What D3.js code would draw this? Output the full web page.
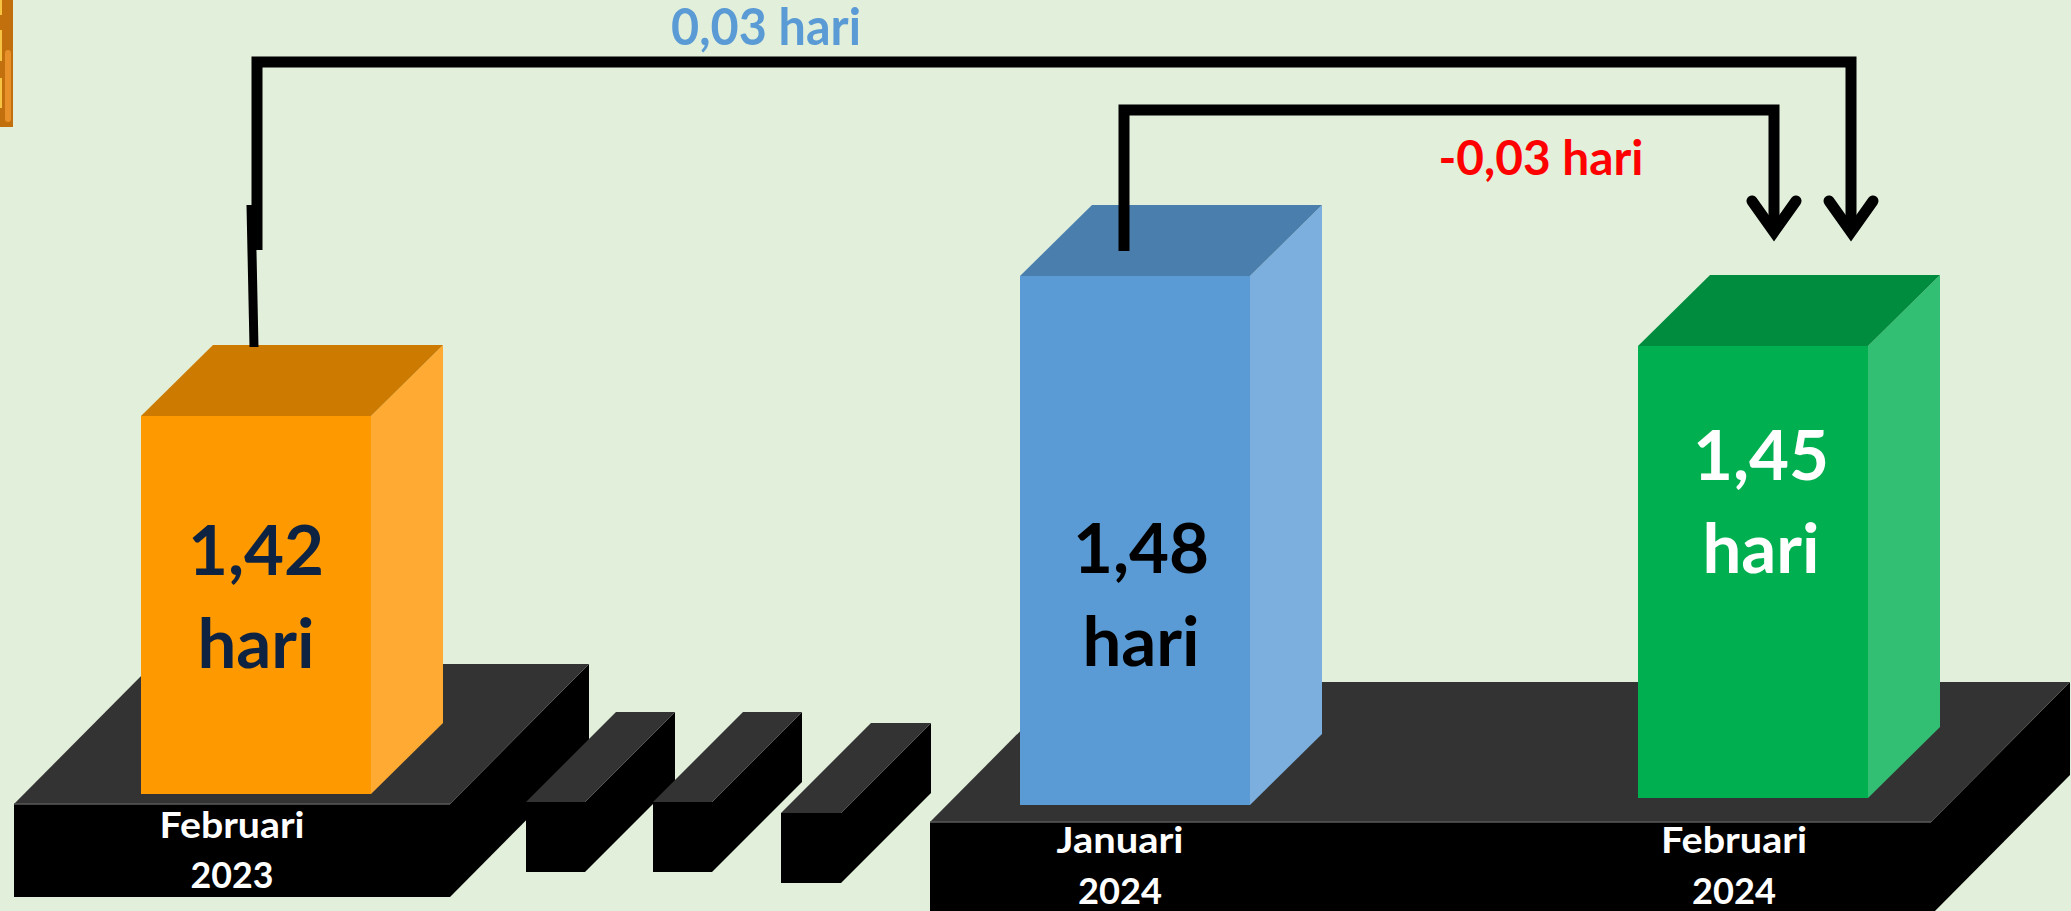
<!DOCTYPE html>
<html>
<head>
<meta charset="utf-8">
<script src="https://cdn.jsdelivr.net/npm/d3@7"></script>
<style>
  html, body { margin: 0; padding: 0; background: #E2EFDA; overflow: hidden; }
  svg { display: block; }
  text { font-family: Lato, "Open Sans", sans-serif; font-weight: 700; }
</style>
</head>
<body>
<svg id="chart" width="2071" height="911"></svg>
<script>
// ---- data ----
const categories = ["Februari 2023", "Januari 2024", "Februari 2024"];
const categoryLines = [["Februari", "2023"], ["Januari", "2024"], ["Februari", "2024"]];
const values = [1.42, 1.48, 1.45];
const unitLabel = "hari";
// comparisons drawn as bracket arrows: [from index, to index]
const comparisons = [[0, 2], [1, 2]];

// ---- styles ----
const faceColors = [
  { front: "#FF9900", side: "#FFAA33", top: "#CC7A00", label: "#0E2241" },
  { front: "#5B9BD5", side: "#7CAFDE", top: "#4A7EAD", label: "#000000" },
  { front: "#00B050", side: "#33BF73", top: "#008C3F", label: "#FFFFFF" }
];
const compareColors = ["#5B9BD5", "#FF0000"];

// ---- layout ----
const W = 2071, H = 911;
const barWidth = 230;
const depth = { dx: 72, dy: -71 };
const barBase = [794, 805, 798];
const labelBaseline = [575, 573, 480];
const labelShift = [0, 6, 8];
const slabDepth = { dx: 139, dy: -140 };
const slabs = [
  { x0: 14, x1: 450, top: 804, bottom: 897 },
  { x0: 930, x1: 1931, top: 822, bottom: 915 }
];
const categoryLabelX = [232, 1120, 1734];
const categoryLineWidths = [[145, 83], [127, 84], [146, 84]];
const categoryBaselines = [[838, 888], [853, 904]];
const blockDepth = { dx: 90, dy: -90 };
const blocks = [
  { x0: 526, x1: 585, top: 802, bottom: 872 },
  { x0: 653, x1: 712, top: 802, bottom: 872 },
  { x0: 781, x1: 841, top: 813, bottom: 883 }
];

const svg = d3.select("#chart");
svg.append("rect").attr("width", W).attr("height", H).attr("fill", "#E2EFDA");

// small decorative tab in the top-left corner
const tab = svg.append("g");
tab.append("rect").attr("x", 0).attr("y", 0).attr("width", 13).attr("height", 127).attr("fill", "#C26F0E");
[[0, 15], [30, 61], [78, 108]].forEach(([a, b]) =>
  tab.append("rect").attr("x", 0).attr("y", a).attr("width", 2).attr("height", b - a).attr("fill", "#F6C342"));
tab.append("rect").attr("x", 5).attr("y", 50).attr("width", 6).attr("height", 72).attr("rx", 3).attr("fill", "#E8902A");

// ---- scales ----
const x = d3.scaleOrdinal().domain(categories).range([141, 1020, 1638]);
const y = d3.scaleLinear().domain([1.42, 1.48]).range([416, 276]);

// generic extruded box: front rectangle, side and top faces
function box(g, x0, x1, top, bottom, d, c) {
  g.append("polygon")
    .attr("points", [[x1, top], [x1 + d.dx, top + d.dy], [x1 + d.dx, bottom + d.dy], [x1, bottom]].join(" "))
    .attr("fill", c.side);
  g.append("polygon")
    .attr("points", [[x0, top], [x0 + d.dx, top + d.dy], [x1 + d.dx, top + d.dy], [x1, top]].join(" "))
    .attr("fill", c.top);
  g.append("rect").attr("x", x0).attr("y", top).attr("width", x1 - x0).attr("height", bottom - top)
    .attr("fill", c.front);
}

// ---- base slabs and connecting blocks ----
const slabColors = { front: "#000000", side: "#000000", top: "#333333" };
const base = svg.append("g");
box(base, slabs[0].x0, slabs[0].x1, slabs[0].top, slabs[0].bottom, slabDepth, slabColors);
blocks.forEach(b => box(base, b.x0, b.x1, b.top, b.bottom, blockDepth, slabColors));
box(base, slabs[1].x0, slabs[1].x1, slabs[1].top, slabs[1].bottom, slabDepth, slabColors);
slabs.forEach(s => base.append("line").attr("x1", s.x0).attr("x2", s.x1).attr("y1", s.top).attr("y2", s.top)
  .attr("stroke", "#5a5a5a").attr("stroke-width", 1.5));

// ---- bars ----
const bars = svg.append("g");
categories.forEach((c, i) => {
  const x0 = x(c);
  box(bars, x0, x0 + barWidth, y(values[i]), barBase[i], depth, faceColors[i]);
});

// ---- value labels inside bars ----
const fmt = v => v.toFixed(2).replace(".", ",");
categories.forEach((c, i) => {
  const cx = x(c) + barWidth / 2 + labelShift[i];
  const g = svg.append("g").attr("fill", faceColors[i].label).attr("text-anchor", "middle")
    .style("font-size", "69px");
  g.append("text").attr("x", cx).attr("y", labelBaseline[i]).text(fmt(values[i]));
  g.append("text").attr("x", cx).attr("y", labelBaseline[i] + 93).text(unitLabel);
});

// ---- category labels on the slab fronts ----
categories.forEach((c, i) => {
  const row = i === 0 ? 0 : 1;
  const g = svg.append("g").attr("fill", "#FFFFFF").attr("text-anchor", "middle").style("font-size", "37px");
  categoryLines[i].forEach((line, j) => {
    g.append("text").attr("x", categoryLabelX[i]).attr("y", categoryBaselines[row][j])
      .attr("textLength", categoryLineWidths[i][j]).attr("lengthAdjust", "spacingAndGlyphs")
      .text(line);
  });
});

// ---- comparison brackets ----
const arrows = svg.append("g").attr("fill", "none").attr("stroke", "#000");
const brackets = [
  { startDx: 113, levelY: 62, endDx: 213, tipY: 232, labelX: 766, labelY: 45, size: 51, len: 190 },
  { startDx: 104, levelY: 110, endDx: 136, tipY: 232, labelX: 1541, labelY: 175, size: 47, len: 205 }
];
comparisons.forEach(([a, b], k) => {
  const br = brackets[k];
  const sx = x(categories[a]) + br.startDx;
  const ex = x(categories[b]) + br.endDx;
  const topY = y(values[a]);
  if (k === 0) {
    // short tilted stub rising from the back edge of the first bar
    const sy = topY + depth.dy + 2;
    arrows.append("path").attr("d", `M${sx} ${sy} L${sx - 3} ${sy - 142}`).attr("stroke-width", 9);
    arrows.append("path").attr("d", `M${sx + 3} ${sy - 97} V${br.levelY} H${ex} V${br.tipY}`)
      .attr("stroke-width", 11).attr("stroke-linejoin", "miter");
  } else {
    const sy = topY - 25;
    arrows.append("path").attr("d", `M${sx} ${sy} V${br.levelY} H${ex} V${br.tipY}`)
      .attr("stroke-width", 11).attr("stroke-linejoin", "miter");
  }
  arrows.append("path")
    .attr("d", `M${ex - 22} ${br.tipY - 31} L${ex} ${br.tipY} L${ex + 22} ${br.tipY - 31}`)
    .attr("stroke-width", 11).attr("stroke-linecap", "round").attr("stroke-linejoin", "miter");

  const diff = values[b] - values[a];
  svg.append("text").attr("x", br.labelX).attr("y", br.labelY).attr("text-anchor", "middle")
    .attr("fill", compareColors[k]).style("font-size", br.size + "px")
    .attr("textLength", br.len).attr("lengthAdjust", "spacingAndGlyphs")
    .text(`${fmt(diff)} ${unitLabel}`);
});
</script>
</body>
</html>
